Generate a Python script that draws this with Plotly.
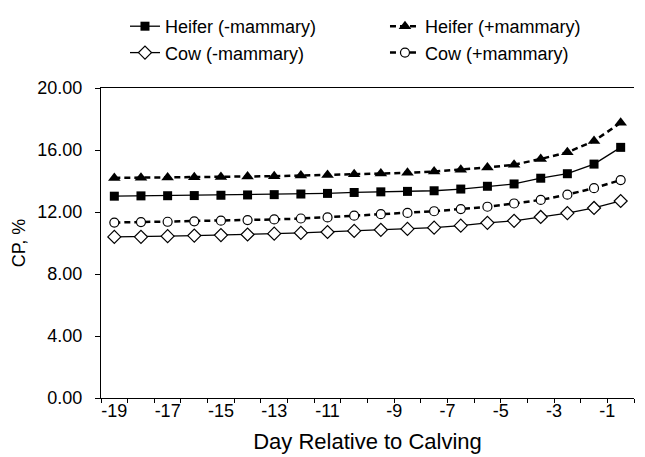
import plotly.graph_objects as go

# 20 daily observations before calving
day_labels = ["-19", "-17", "-15", "-13", "-11", "-9", "-7", "-5", "-3", "-1"]
obs = list(range(20))

heifer_minus = [13.02, 13.04, 13.05, 13.06, 13.08, 13.10, 13.12, 13.16, 13.20, 13.26,
                13.30, 13.33, 13.37, 13.48, 13.66, 13.81, 14.18, 14.47, 15.09, 16.17]
heifer_plus = [14.20, 14.21, 14.22, 14.24, 14.26, 14.29, 14.31, 14.35, 14.39, 14.44,
               14.49, 14.53, 14.61, 14.72, 14.87, 15.05, 15.42, 15.85, 16.58, 17.76]
cow_minus = [10.39, 10.40, 10.44, 10.48, 10.51, 10.55, 10.60, 10.65, 10.71, 10.78,
             10.85, 10.91, 10.99, 11.12, 11.30, 11.43, 11.68, 11.93, 12.26, 12.71]
cow_plus = [11.32, 11.35, 11.37, 11.40, 11.44, 11.48, 11.52, 11.58, 11.65, 11.76,
            11.86, 11.94, 12.05, 12.19, 12.34, 12.55, 12.78, 13.12, 13.54, 14.06]

FONT = "Liberation Sans, Arial, sans-serif"

fig = go.Figure()
fig.add_trace(go.Scatter(
    x=obs, y=heifer_minus, name="Heifer (-mammary)", mode="lines+markers",
    line=dict(color="black", width=1.3),
    marker=dict(symbol="square", size=9, color="black"),
))
fig.add_trace(go.Scatter(
    x=obs, y=heifer_plus, name="Heifer (+mammary)", mode="lines+markers",
    line=dict(color="black", width=2.5, dash="6px,4px"),
    marker=dict(symbol="triangle-up", size=11, color="black"),
))
fig.add_trace(go.Scatter(
    x=obs, y=cow_minus, name="Cow (-mammary)", mode="lines+markers",
    line=dict(color="black", width=1.3),
    marker=dict(symbol="diamond", size=10, color="white", line=dict(color="black", width=1.2)),
))
fig.add_trace(go.Scatter(
    x=obs, y=cow_plus, name="Cow (+mammary)", mode="lines+markers",
    line=dict(color="black", width=2.5, dash="6px,4px"),
    marker=dict(symbol="circle", size=9, color="white", line=dict(color="black", width=1.2)),
))

# page body has an 8px margin, so the figure is sized 8px smaller than the window
fig.update_layout(
    width=637, height=449,
    margin=dict(l=93, r=0, t=68, b=59),
    plot_bgcolor="white", paper_bgcolor="white",
    font=dict(family=FONT, size=18, color="black"),
    showlegend=True,
    legend=dict(
        orientation="h", x=0.045, xanchor="left", y=1.26, yanchor="top",
        entrywidth=215, entrywidthmode="pixels",
        font=dict(size=18), bgcolor="rgba(0,0,0,0)",
    ),
    xaxis=dict(
        range=[-0.5, 19.5], showgrid=False, zeroline=False,
        showline=True, linecolor="black", linewidth=1.2, mirror=True,
        # labels sit on category centres on the left, on boundaries on the right
        tickmode="array", tickvals=[0, 2, 4, 6, 8, 10.5001, 12.5001, 14.5001, 16.5001, 18.5001],
        ticktext=day_labels, ticks="outside", ticklen=2, tickcolor="rgba(0,0,0,0)",
        tickfont=dict(size=18), ticklabelstandoff=-6,
        minor=dict(tickvals=[i - 0.5 for i in range(21)], ticks="outside",
                   ticklen=4, tickcolor="black", showgrid=False),
        title=dict(text="Day Relative to Calving", font=dict(size=22), standoff=13),
    ),
    yaxis=dict(
        range=[0, 20], tickmode="array", tickvals=[0, 4, 8, 12, 16, 20],
        tickformat=".2f", showgrid=False, zeroline=False,
        showline=True, linecolor="black", linewidth=1.2,
        ticks="outside", ticklen=5, tickcolor="black",
        tickfont=dict(size=18), ticklabelstandoff=9,
        title=dict(text="CP, %", font=dict(size=18), standoff=6),
    ),
)
fig.write_html("out.html")
